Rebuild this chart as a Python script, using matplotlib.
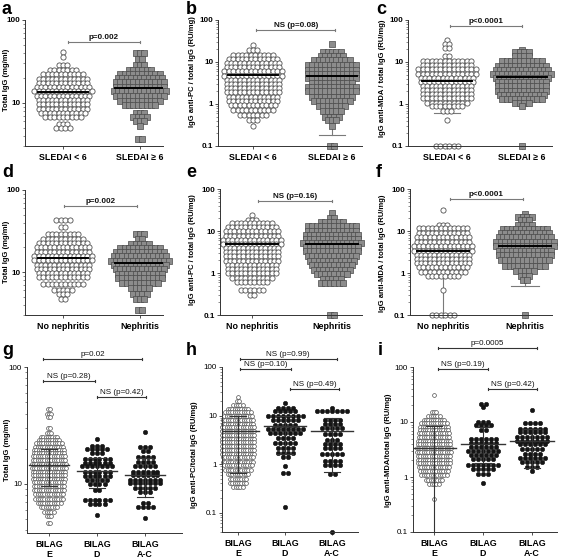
import numpy as np
import matplotlib
matplotlib.use("Agg")
import matplotlib.pyplot as plt
from matplotlib.transforms import blended_transform_factory
from matplotlib.ticker import FixedLocator, LogLocator, NullFormatter

plt.rcParams["font.family"] = ["Liberation Sans", "DejaVu Sans"]

# ---------------- data: dot rows (value) and number of dots per row ----------------
# a: total IgG, SLEDAI
a_lt6_lv = [41.5, 36.1, 28.7, 25.0, 22.3, 19.5, 17.3, 15.5, 13.7, 12.1, 10.9, 9.6, 8.5, 7.5, 6.8, 5.6, 5.0]
a_lt6_n = [1, 1, 3, 7, 10, 12, 12, 13, 14, 13, 12, 12, 12, 11, 9, 3, 4]
a_ge6_lv = [39.7, 33.6, 28.7, 25.0, 22.3, 19.8, 17.6, 15.5, 13.7, 11.9, 10.4, 9.3, 7.6, 6.7, 6.0, 5.3, 3.65]
a_ge6_n = [3, 2, 3, 6, 10, 11, 12, 12, 13, 12, 10, 8, 3, 4, 3, 1, 2]
# b: anti-PC, SLEDAI
b_lt6_lv = [25.4, 19.6, 14.9, 11.8, 9.4, 7.4, 6.0, 4.7, 3.8, 3.04, 2.4, 1.9, 1.5, 1.2, 0.95, 0.73, 0.56, 0.42, 0.30]
b_lt6_n = [1, 3, 10, 12, 13, 13, 14, 14, 13, 13, 13, 13, 12, 12, 11, 10, 7, 3, 1]
b_ge6_lv = [26.8, 17.3, 14.1, 11.3, 8.6, 6.6, 5.3, 4.07, 3.16, 2.54, 2.0, 1.5, 1.15, 0.88, 0.67, 0.5, 0.41, 0.30, 0.1]
b_ge6_n = [1, 5, 6, 9, 12, 12, 12, 12, 10, 12, 12, 10, 9, 7, 5, 4, 3, 1, 2]
# c: anti-MDA, SLEDAI
c_lt6_lv = [34, 27, 21.5, 13.6, 10.7, 8.6, 6.8, 5.3, 4.16, 3.4, 2.7, 2.2, 1.73, 1.36, 1.06, 0.88, 0.69, 0.41, 0.1]
c_lt6_n = [1, 2, 2, 2, 12, 12, 14, 14, 13, 13, 12, 12, 12, 12, 10, 8, 3, 1, 6]
c_ge6_lv = [19.6, 16.9, 13.6, 10.3, 8.2, 6.6, 5.3, 4.16, 3.27, 2.62, 2.07, 1.66, 1.31, 1.06, 0.88, 0.1]
c_ge6_n = [1, 4, 4, 10, 12, 13, 14, 13, 12, 12, 12, 11, 10, 4, 1, 1]
# d: total IgG, nephritis
d_non_lv = [43, 35.5, 28.9, 25.6, 22.6, 20.1, 17.8, 15.7, 13.9, 12.3, 11.0, 9.7, 8.7, 7.1, 6.1, 5.4, 4.7]
d_non_n = [4, 2, 8, 10, 12, 13, 13, 14, 14, 13, 13, 12, 12, 10, 5, 3, 2]
d_nep_lv = [28.9, 25.6, 22.2, 19.9, 17.6, 15.6, 13.8, 12.1, 10.8, 9.6, 8.5, 7.3, 6.4, 5.4, 4.7, 3.5]
d_nep_n = [3, 2, 5, 10, 12, 13, 14, 13, 12, 11, 11, 9, 5, 4, 3, 2]
# e: anti-PC, nephritis
e_non_lv = [24.5, 18.6, 15.5, 12.2, 9.8, 7.7, 6.2, 4.9, 3.9, 3.1, 2.5, 1.97, 1.58, 1.25, 1.0, 0.76, 0.60, 0.40, 0.30]
e_non_n = [1, 3, 10, 12, 13, 13, 14, 14, 13, 13, 13, 13, 12, 12, 12, 10, 8, 6, 2]
e_nep_lv = [26.8, 20.4, 16.4, 12.9, 10.2, 8.2, 6.4, 5.2, 4.1, 3.3, 2.6, 1.97, 1.58, 1.2, 0.95, 0.72, 0.57, 0.1]
e_nep_n = [1, 2, 6, 12, 12, 13, 13, 14, 13, 13, 12, 11, 10, 9, 8, 5, 6, 2]
# f: anti-MDA, nephritis
f_non_lv = [31, 13.8, 11.6, 8.8, 7.1, 5.6, 4.4, 3.4, 2.7, 2.1, 1.72, 1.36, 1.04, 0.83, 0.40, 0.1]
f_non_n = [1, 3, 12, 12, 13, 13, 14, 14, 13, 13, 13, 12, 11, 8, 1, 6]
f_nep_lv = [26, 21.8, 18.2, 13.8, 11.0, 8.8, 7.1, 5.6, 4.4, 3.4, 2.7, 2.07, 1.5, 1.1, 0.86, 0.67, 0.1]
f_nep_n = [1, 4, 3, 4, 11, 12, 13, 14, 14, 13, 13, 12, 10, 5, 3, 2, 1]
# g: total IgG, BILAG
g_E_lv = [44, 40, 37.6, 29.9, 27, 25.4, 23.8, 22.3, 20.8, 19.5, 18.3, 17.2, 16.1, 14.7, 13.6, 12.7, 11.9,
          11.0, 10.3, 9.6, 8.9, 8.2, 7.4, 6.8, 6.3, 5.8, 5.3, 4.6]
g_E_n = [2, 3, 2, 2, 3, 8, 10, 12, 13, 14, 14, 15, 15, 16, 16, 15, 15, 15, 14, 14, 14, 13, 13, 11, 8, 5, 3, 2]
g_D_lv = [24.1, 21.3, 20, 18.3, 16.3, 15.2, 14.1, 12.7, 11.7, 10.8, 10, 8.9, 7.3, 6.7, 5.4]
g_D_n = [1, 3, 5, 3, 6, 6, 7, 6, 6, 5, 4, 2, 6, 4, 1]
g_AC_lv = [28, 20.8, 19.1, 17, 15.3, 14.1, 12.7, 11.9, 10.9, 10.1, 9.2, 8.5, 6.8, 6.3, 5.1]
g_AC_n = [1, 3, 2, 4, 4, 5, 6, 6, 7, 7, 5, 3, 2, 4, 1]
# h: anti-PC, BILAG
h_E_lv = [24.6, 20.3, 16.6, 13.8, 11.6, 9.6, 8.2, 6.8, 5.7, 4.8, 4.0, 3.3, 2.85, 2.36, 1.96, 1.65, 1.37,
          1.12, 0.95, 0.77, 0.63, 0.50, 0.41, 0.34]
h_E_n = [1, 2, 5, 10, 12, 13, 14, 14, 15, 15, 15, 15, 15, 15, 15, 15, 14, 14, 13, 12, 10, 8, 8, 5]
h_D_lv = [17.9, 14.2, 12.2, 9.6, 8.0, 6.5, 5.3, 4.3, 3.5, 2.76, 2.1, 1.73, 1.37, 0.92, 0.65, 0.13]
h_D_n = [1, 4, 5, 8, 6, 5, 8, 7, 4, 5, 4, 4, 2, 1, 2, 1]
h_AC_lv = [14.2, 12.7, 8.2, 6.8, 5.6, 4.1, 3.2, 2.55, 2.1, 1.6, 1.17, 0.95, 0.63, 0.04]
h_AC_n = [1, 7, 4, 4, 5, 4, 3, 4, 4, 5, 4, 4, 2, 1]
# i: anti-MDA, BILAG
i_E_lv = [31.6, 15, 13.1, 11.1, 9.6, 8.1, 7.1, 6.2, 5.3, 4.6, 3.9, 3.3, 2.84, 2.4, 2.05, 1.77, 1.5, 1.28,
          1.07, 0.9, 0.74, 0.39]
i_E_n = [1, 3, 6, 10, 12, 13, 13, 14, 14, 15, 15, 16, 16, 15, 15, 15, 14, 13, 12, 8, 5, 1]
i_D_lv = [21, 18.4, 10.2, 8.7, 7.3, 4.9, 4.1, 3.5, 3.0, 2.5, 2.1, 1.67, 1.4, 1.15, 0.78]
i_D_n = [2, 1, 3, 4, 2, 6, 6, 6, 7, 6, 5, 7, 5, 3, 1]
i_AC_lv = [16.7, 9.4, 7.6, 6.5, 5.4, 4.6, 3.9, 3.25, 2.65, 2.25, 1.84, 1.5, 1.28]
i_AC_n = [1, 4, 6, 6, 7, 7, 6, 5, 4, 6, 5, 3, 1]

# centre line and error bar ends per group
a_mid, a_lo, a_hi = [13.5, 15.0], [9.3, 10.0], [19.5, 21.0]
b_mid, b_lo, b_hi = [5.0, 4.6], [1.2, 0.18], [10, 10]
c_mid, c_lo, c_hi = [3.5, 4.5], [0.6, 1.4], [9, 9]
d_mid, d_lo, d_hi = [15.0, 13.0], [9.5, 8.5], [22, 19]
e_mid, e_lo, e_hi = [4.8, 5.0], [1.2, 0.9], [10, 10]
f_mid, f_lo, f_hi = [3.3, 4.5], [0.1, 0.48], [9, 10]
g_mid, g_lo, g_hi = [14.5, 13.0, 12.0], [9.5, 9.3, 7.7], [20, 16.5, 16.7]
h_mid, h_lo, h_hi = [4.8, 6.0, 4.9], [0.65, 1.6, 0.7], [10, 10, 9]
i_mid, i_lo, i_hi = [3.3, 3.9, 4.5], [0.1, 1.8, 1.46], [8.5, 8.0, 7.4]

sledai_cats = ["SLEDAI < 6", "SLEDAI \u2265 6"]
neph_cats = ["No nephritis", "Nephritis"]
bilag_cats = ["BILAG\nE", "BILAG\nD", "BILAG\nA-C"]

lab_igg = "Total IgG (mg/ml)"
lab_pc = "IgG anti-PC / total IgG (RU/mg)"
lab_mda = "IgG anti-MDA / total IgG (RU/mg)"
lab_pc2 = "IgG anti-PC/total IgG (RU/mg)"
lab_mda2 = "IgG anti-MDA/total IgG (RU/mg)"

W, H = 567, 560
fig = plt.figure(figsize=(W / 100, H / 100), dpi=100)

OPEN = dict(marker="o", s=14, facecolors="white", edgecolors="#505050", linewidths=0.6)
SQUARE = dict(marker="s", s=13, facecolors="#8c8c8c", edgecolors="#4a4a4a", linewidths=0.5)
OPEN_S = dict(marker="o", s=7.5, facecolors="white", edgecolors="#505050", linewidths=0.5)
BLACK = dict(marker="o", s=10, facecolors="#151515", edgecolors="#151515", linewidths=0.4)


def make_axes(l, r, t, b, cat_px, ylim, cats, bold):
    ax = fig.add_axes([l / W, 1 - b / H, (r - l) / W, (b - t) / H])
    ppu = cat_px[1] - cat_px[0]
    ax.set_xlim((l - cat_px[0]) / ppu, (r - cat_px[0]) / ppu)
    ax.set_yscale("log")
    ax.set_ylim(ylim)
    for s in ["top", "right"]:
        ax.spines[s].set_visible(False)
    for s in ["left", "bottom"]:
        ax.spines[s].set_color("#333333")
        ax.spines[s].set_linewidth(0.7)
    decades = [v for v in [0.1, 1, 10, 100] if ylim[0] <= v <= ylim[1]]
    ax.yaxis.set_major_locator(FixedLocator(decades))
    ax.set_yticklabels(["%g" % v for v in decades], fontsize=5.8,
                       fontweight="bold" if bold else "normal")
    ax.yaxis.set_minor_locator(LogLocator(base=10, subs=np.arange(2, 10)))
    ax.yaxis.set_minor_formatter(NullFormatter())
    ax.tick_params(axis="y", which="major", length=2.5, width=0.6, pad=1, color="#333333")
    ax.tick_params(axis="y", which="minor", length=1.2, width=0.4, color="#333333")
    ax.set_xticks(range(len(cats)))
    ax.set_xticklabels(cats, fontsize=6.4, fontweight="bold", linespacing=1.15)
    ax.tick_params(axis="x", length=2, width=0.6, pad=3, color="#333333")
    ax.set_facecolor("none")
    return ax, ppu, (t, b)


def swarm(ax, x, levels, counts, spacing_px, ppu, style):
    xs, ys = [], []
    for v, n in zip(levels, counts):
        off = (np.arange(n) - (n - 1) / 2) * spacing_px / ppu
        xs.extend(x + off)
        ys.extend([v] * n)
    ax.scatter(xs, ys, clip_on=False, zorder=2, **style)


def summary(ax, mids, los, his, half_line, half_cap, color, lw, front):
    z = 3 if front else 1
    for k, (m, lo, hi) in enumerate(zip(mids, los, his)):
        ax.plot([k, k], [lo, hi], color=color, lw=0.8, zorder=z, clip_on=False)
        for yv in (lo, hi):
            if yv > ax.get_ylim()[0] * 1.01:
                ax.plot([k - half_cap, k + half_cap], [yv, yv], color=color, lw=0.8, zorder=z)
        ax.plot([k - half_line, k + half_line], [m, m], color="black" if not front else color,
                lw=lw, zorder=3)


def bracket(ax, tb, x0, x1, y_px, text, color, bold):
    t, b = tb
    yf = (b - y_px) / (b - t)
    dy = 1.3 / (b - t)
    tr = blended_transform_factory(ax.transData, ax.transAxes)
    kw = dict(color=color, lw=0.8, transform=tr, clip_on=False)
    ax.plot([x0, x1], [yf, yf], **kw)
    ax.plot([x0, x0], [yf - dy, yf + dy], **kw)
    ax.plot([x1, x1], [yf - dy, yf + dy], **kw)
    ax.text((x0 + x1) / 2, yf + 1.0 / (b - t), text, transform=tr, ha="center", va="bottom",
            fontsize=5.8, fontweight="bold" if bold else "normal", color="#111111")


def ylabel(x_px, y_px, text):
    fig.text(x_px / W, 1 - y_px / H, text, rotation=90, ha="center", va="center",
             fontsize=5.5, fontweight="bold")


def letter(x_px, y_px, text):
    fig.text(x_px / W, 1 - y_px / H, text, ha="left", va="baseline", fontsize=13, fontweight="bold")


GRAY = "#7a7a7a"

# ---------------- row 1 ----------------
ax, ppu, tb = make_axes(25, 163, 20, 146, (63, 140), (3.0, 100), sledai_cats, True)
swarm(ax, 0, a_lt6_lv, a_lt6_n, 4.4, ppu, OPEN)
swarm(ax, 1, a_ge6_lv, a_ge6_n, 4.4, ppu, SQUARE)
summary(ax, a_mid, a_lo, a_hi, 0.33, 0.17, GRAY, 1.4, False)
bracket(ax, tb, 0.06, 1.0, 42, "p=0.002", GRAY, True)
ylabel(7, 80, lab_igg)
letter(2, 14, "a")

ax, ppu, tb = make_axes(218, 362, 20, 146, (253, 332), (0.1, 100), sledai_cats, True)
swarm(ax, 0, b_lt6_lv, b_lt6_n, 4.4, ppu, OPEN)
swarm(ax, 1, b_ge6_lv, b_ge6_n, 4.4, ppu, SQUARE)
summary(ax, b_mid, b_lo, b_hi, 0.32, 0.17, GRAY, 1.4, False)
bracket(ax, tb, 0.04, 1.04, 30, "NS (p=0.08)", GRAY, True)
ylabel(193, 72, lab_pc)
letter(186, 14, "b")

ax, ppu, tb = make_axes(408, 552, 20, 146, (447, 522), (0.1, 100), sledai_cats, True)
swarm(ax, 0, c_lt6_lv, c_lt6_n, 4.4, ppu, OPEN)
swarm(ax, 1, c_ge6_lv, c_ge6_n, 4.4, ppu, SQUARE)
summary(ax, c_mid, c_lo, c_hi, 0.33, 0.17, GRAY, 1.4, False)
bracket(ax, tb, 0.04, 1.0, 26, "p<0.0001", GRAY, True)
ylabel(383, 78, lab_mda)
letter(376, 14, "c")

# ---------------- row 2 ----------------
ax, ppu, tb = make_axes(25, 163, 190, 315, (63, 140), (3.0, 100), neph_cats, True)
swarm(ax, 0, d_non_lv, d_non_n, 4.4, ppu, OPEN)
swarm(ax, 1, d_nep_lv, d_nep_n, 4.4, ppu, SQUARE)
summary(ax, d_mid, d_lo, d_hi, 0.33, 0.17, GRAY, 1.4, False)
bracket(ax, tb, 0.01, 0.96, 206, "p=0.002", GRAY, True)
ylabel(7, 252, lab_igg)
letter(2, 177, "d")

ax, ppu, tb = make_axes(220, 362, 189, 315, (252, 332), (0.1, 100), neph_cats, True)
swarm(ax, 0, e_non_lv, e_non_n, 4.4, ppu, OPEN)
swarm(ax, 1, e_nep_lv, e_nep_n, 4.4, ppu, SQUARE)
summary(ax, e_mid, e_lo, e_hi, 0.32, 0.17, GRAY, 1.4, False)
bracket(ax, tb, 0.08, 1.0, 201, "NS (p=0.16)", GRAY, True)
ylabel(192, 250, lab_pc)
letter(186, 177, "e")

ax, ppu, tb = make_axes(410, 552, 189, 315, (443, 525), (0.1, 100), neph_cats, True)
swarm(ax, 0, f_non_lv, f_non_n, 4.4, ppu, OPEN)
swarm(ax, 1, f_nep_lv, f_nep_n, 4.4, ppu, SQUARE)
summary(ax, f_mid, f_lo, f_hi, 0.32, 0.17, GRAY, 1.4, False)
bracket(ax, tb, 0.08, 0.98, 199, "p<0.0001", GRAY, True)
ylabel(383, 253, lab_mda)
letter(376, 177, "f")

# ---------------- row 3 ----------------
DARK = "#333333"
ax, ppu, tb = make_axes(27, 182, 367, 533, (49, 97), (3.8, 100), bilag_cats, False)
swarm(ax, 0, g_E_lv, g_E_n, 2.3, ppu, OPEN_S)
swarm(ax, 1, g_D_lv, g_D_n, 5.0, ppu, BLACK)
swarm(ax, 2, g_AC_lv, g_AC_n, 5.0, ppu, BLACK)
summary(ax, g_mid, g_lo, g_hi, 0.42, 0.17, DARK, 1.0, True)
bracket(ax, tb, -0.12, 1.94, 359, "p=0.02", DARK, False)
bracket(ax, tb, -0.12, 0.96, 381, "NS (p=0.28)", DARK, False)
bracket(ax, tb, 1.0, 2.03, 397, "NS (p=0.42)", DARK, False)
ylabel(8, 450, lab_igg)
letter(2, 355, "g")

ax, ppu, tb = make_axes(222, 358, 367, 532, (238, 285), (0.04, 100), bilag_cats, False)
swarm(ax, 0, h_E_lv, h_E_n, 2.3, ppu, OPEN_S)
swarm(ax, 1, h_D_lv, h_D_n, 5.0, ppu, BLACK)
swarm(ax, 2, h_AC_lv, h_AC_n, 5.0, ppu, BLACK)
summary(ax, h_mid, h_lo, h_hi, 0.45, 0.17, DARK, 1.0, True)
bracket(ax, tb, 0.04, 2.1, 359, "NS (p=0.99)", DARK, False)
bracket(ax, tb, 0.04, 1.12, 369, "NS (p=0.10)", DARK, False)
bracket(ax, tb, 1.1, 2.15, 389, "NS (p=0.49)", DARK, False)
ylabel(195, 455, lab_pc2)
letter(186, 355, "h")

ax, ppu, tb = make_axes(413, 557, 367, 532, (434, 483), (0.1, 100), bilag_cats, False)
swarm(ax, 0, i_E_lv, i_E_n, 2.3, ppu, OPEN_S)
swarm(ax, 1, i_D_lv, i_D_n, 5.0, ppu, BLACK)
swarm(ax, 2, i_AC_lv, i_AC_n, 5.0, ppu, BLACK)
summary(ax, i_mid, i_lo, i_hi, 0.45, 0.17, DARK, 1.0, True)
bracket(ax, tb, 0.08, 2.1, 348, "p=0.0005", DARK, False)
bracket(ax, tb, 0.08, 1.1, 369, "NS (p=0.19)", DARK, False)
bracket(ax, tb, 1.1, 2.1, 389, "NS (p=0.42)", DARK, False)
ylabel(388, 450, lab_mda2)
letter(378, 355, "i")

fig.savefig("out.png", dpi=100)
